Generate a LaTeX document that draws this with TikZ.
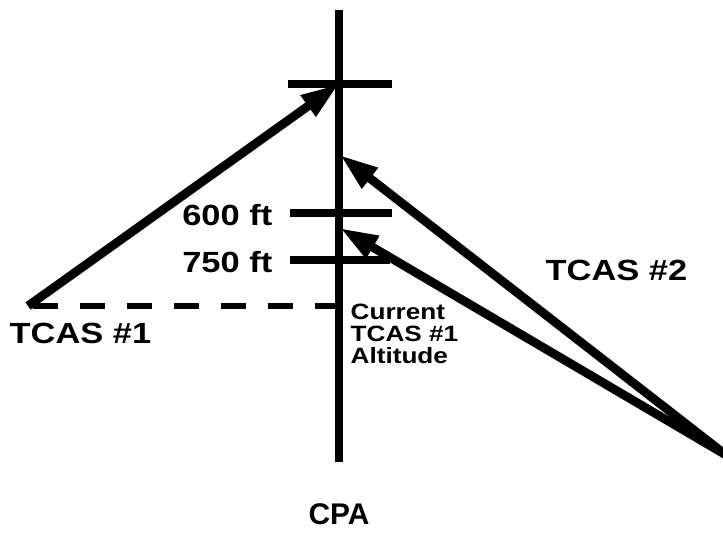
\documentclass[tikz,border=0pt]{standalone}
\usepackage{fontspec}
\setmainfont{Liberation Sans}
\newfontfamily\widefont[FakeStretch=1.18]{Liberation Sans Bold}
\usetikzlibrary{arrows.meta}
\begin{document}
\begin{tikzpicture}[
		x=0.01cm, y=-0.01cm,
		axis/.style={line width=2.4pt},
		track/.style={line width=2.5pt, -{Triangle[length=0.38cm, width=0.24cm]}},
		label/.style={inner sep=0pt, font=\widefont\fontsize{8.3}{9}\selectfont},
		small/.style={inner sep=0pt, align=left, font=\widefont\fontsize{6.3}{6.3}\selectfont},
	]
	\useasboundingbox (0,0) rectangle (723,533);

	% CPA axis and its tick marks
	\coordinate (top) at (339, 10);
	\coordinate (bot) at (339, 462);
	\coordinate (cpaL) at (288, 84);
	\coordinate (cpaR) at (392, 84);
	\coordinate (cpa) at (339, 84);
	\coordinate (t6L) at (290, 213);
	\coordinate (t6R) at (392, 213);
	\coordinate (t7L) at (290, 260);
	\coordinate (t7R) at (390, 260);

	% aircraft positions
	\coordinate (own) at (28, 306);
	\coordinate (alt) at (340, 306);
	\coordinate (intr) at (726, 455);
	\coordinate (aim1) at (340, 155);
	\coordinate (aim2) at (340, 228);

	\draw[axis] (top) -- (bot);
	\draw[axis] (cpaL) -- (cpaR);
	\draw[axis] (t6L) -- (t6R);
	\draw[axis] (t7L) -- (t7R);

	% current altitude of TCAS #1
	\draw[line width=1.6pt, dash pattern=on 0.25cm off 0.22cm] (alt) -- (own);

	% tracks
	\draw[track] (own) -- (cpa);
	\draw[track] (intr) -- (aim1);
	\draw[track] (intr) -- (aim2);

	% labels
	\node[label, anchor=east] (ft600) at (273, 215) {600 ft};
	\node[label, anchor=east] (ft750) at (273, 262) {750 ft};
	\node[label, anchor=west] (tcas1) at (9, 333) {TCAS \#1};
	\node[label, anchor=west] (tcas2) at (545, 270) {TCAS \#2};
	\node[small, anchor=north west] (curalt) at (350, 303) {Current\\TCAS \#1\\Altitude};
	\node[inner sep=0pt, font=\bfseries\fontsize{8.5}{9}\selectfont] (cpalbl) at (339, 514) {CPA};
\end{tikzpicture}
\end{document}
